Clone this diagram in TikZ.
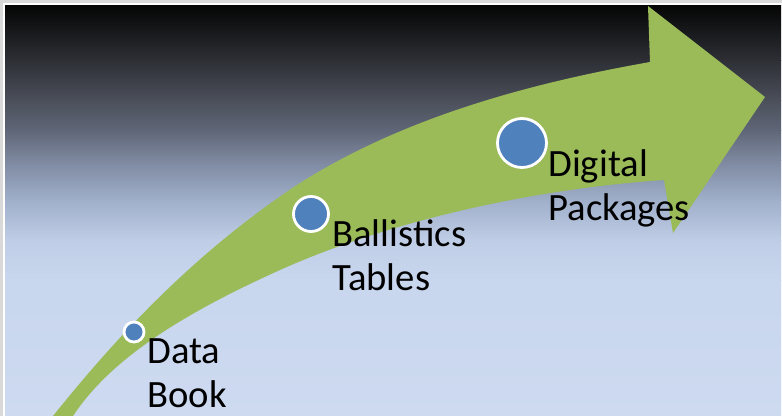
\documentclass[tikz,border=0pt]{standalone}
\usepackage{fontspec}
\setmainfont{Carlito}

\definecolor{arrowgreen}{HTML}{9BBB59}
\definecolor{dotblue}{HTML}{4F81BD}
\definecolor{framegray}{HTML}{D9D9D9}
\definecolor{bgA}{HTML}{050505}
\definecolor{bgB}{HTML}{2D2F35}
\definecolor{bgC}{HTML}{4B4F5A}
\definecolor{bgD}{HTML}{5F6677}
\definecolor{bgE}{HTML}{7D889F}
\definecolor{bgF}{HTML}{A0AFCA}
\definecolor{bgG}{HTML}{BFCDE6}
\definecolor{bgH}{HTML}{C8D6EE}
\definecolor{bgI}{HTML}{CDDAF0}

\begin{document}
\begin{tikzpicture}[x=0.02cm,y=-0.02cm,
    dot/.style={circle,fill=dotblue,draw=white,line width=1.6pt,inner sep=0pt},
    stage/.style={align=left,inner sep=0pt,font=\fontsize{22}{25}\selectfont}]
      % \draw[help lines](0,0) grid[step=50] (782,416);

      \fill[framegray] (0,0) rectangle (782,416);
      \fill[white] (3,3) rectangle (782,416);

      % background, band by band
      \shade[top color=bgA,bottom color=bgB] (5,5) rectangle (781,60.5);
      \shade[top color=bgB,bottom color=bgC] (5,60) rectangle (781,100.5);
      \shade[top color=bgC,bottom color=bgD] (5,100) rectangle (781,130.5);
      \shade[top color=bgD,bottom color=bgE] (5,130) rectangle (781,160.5);
      \shade[top color=bgE,bottom color=bgF] (5,160) rectangle (781,200.5);
      \shade[top color=bgF,bottom color=bgG] (5,200) rectangle (781,240.5);
      \shade[top color=bgG,bottom color=bgH] (5,240) rectangle (781,280.5);
      \shade[top color=bgH,bottom color=bgI] (5,280) rectangle (781,416);

      % the arrow
      \fill[arrowgreen] (53,416) .. controls (110,345) and (190,255) .. (300,183)
        .. controls (400,120) and (520,85) .. (650,62)
        -- (648,6) -- (765,97) -- (673,233) -- (664,180)
        .. controls (520,190) and (380,225) .. (280,270)
        .. controls (180,315) and (110,360) .. (73,416) -- cycle;

      \draw (134,332) node[dot,minimum size=0.4cm] (bookdot) {};
      \draw (311,214) node[dot,minimum size=0.7cm] (tabledot) {};
      \draw (522,143) node[dot,minimum size=0.98cm] (digitaldot) {};

      \draw (147,407) node[stage,anchor=base west] (book) {Data\\Book};
      \draw (332,290) node[stage,anchor=base west] (tables) {Ballistics\\Tables};
      \draw (548,220) node[stage,anchor=base west] (packages) {Digital\\Packages};
    \end{tikzpicture}
\end{document}
